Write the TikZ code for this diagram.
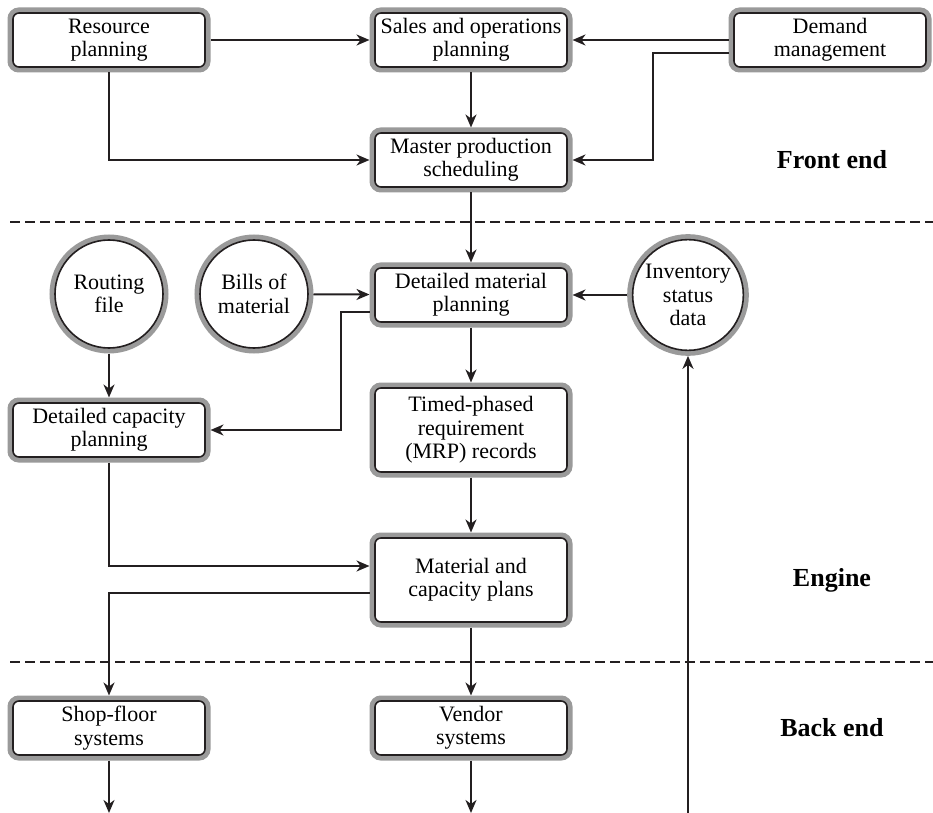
\documentclass[tikz,border=0pt]{standalone}
\usepackage{fontspec}
\setmainfont{LiberationSerif}[
  Extension=.ttf,
  UprightFont=*-Regular,
  BoldFont=*-Bold,
  ItalicFont=*-Italic,
  BoldItalicFont=*-BoldItalic]
\usepackage{tikz}
\usetikzlibrary{arrows.meta,positioning,calc}
\definecolor{ringgray}{HTML}{9A9A9A}
\definecolor{linedark}{HTML}{231F20}
\tikzset{
  mybox/.style={
    draw=linedark, fill=white, rounded corners=3pt, line width=0.8pt,
    preaction={draw=ringgray, line width=5.5pt},
    font=\fontsize{11}{11.7}\selectfont, align=center,
    minimum width=96pt, minimum height=27pt, inner sep=2pt, outer sep=2.75pt,
  },
  mycirc/.style={
    circle, draw=linedark, fill=white, line width=0.8pt,
    preaction={draw=ringgray, line width=5.5pt},
    font=\fontsize{11}{11.7}\selectfont, align=center,
    minimum size=54pt, inner sep=1pt, outer sep=2.75pt,
  },
  arrow/.style={-{Stealth[length=6.5pt, width=5.5pt, inset=2pt]}, line width=1pt, color=linedark},
  divider/.style={dash pattern=on 5pt off 2.5pt, line width=0.6pt, color=linedark},
  zone/.style={font=\fontsize{13}{15}\selectfont\bfseries},
}

\begin{document}
\begin{tikzpicture}[
  x=0.5pt, y=-0.5pt,
  tallbox/.style={mybox, minimum height=42pt},
]
  \useasboundingbox (0,0) rectangle (933,813);

  \node[mybox] (resplan) at (109,40) {Resource\\planning};
  \node[mybox] (sop) at (471,40) {Sales and operations\\planning};
  \node[mybox] (demand) at (830,40) {Demand\\management};
  \node[mybox] (mps) at (471,160) {Master production\\scheduling};

  \node[mycirc] (routing) at (109,294) {Routing\\file};
  \node[mycirc] (bom) at (254,294) {Bills of\\material};
  \node[mybox] (dmp) at (471,295) {Detailed material\\planning};
  \node[mycirc] (invdata) at (688,295) {Inventory\\status\\data};

  \node[mybox] (dcp) at (109,430) {Detailed capacity\\planning};
  \node[tallbox] (mrp) at (471,430) {Timed-phased\\requirement\\(MRP) records};
  \node[tallbox] (plans) at (471,580) {Material and\\capacity plans};

  \node[mybox] (shop) at (109,728) {Shop-floor\\systems};
  \node[mybox] (vendor) at (471,728) {Vendor\\systems};

  \node[zone] (frontend) at (832,160) {Front end};
  \node[zone] (engine) at (832,580) {Engine};
  \node[zone] (backend) at (832,728) {Back end};

  \coordinate (shopout) at (109,813);
  \coordinate (vendorout) at (471,813);
  \coordinate (invin) at (688,813);

  \draw[divider] (10,222) -- (933,222);
  \draw[divider] (10,662) -- (933,662);

  \draw[arrow] (resplan) -- (sop);
  \draw[arrow] (demand) -- (sop);
  \draw[arrow] (sop) -- (mps);
  \draw[arrow] (resplan.south) |- (mps.west);
  \draw[arrow] ($(demand.west)+(0,13)$) -| ($(mps.east)+(80,0)$) -- (mps.east);
  \draw[arrow] (mps) -- (dmp);
  \draw[arrow] (bom) -- (dmp);
  \draw[arrow] (invdata) -- (dmp);
  \draw[arrow] (routing) -- (dcp);
  \draw[arrow] ($(dmp.west)+(0,17)$) -| ($(dcp.east)+(130,0)$) -- (dcp.east);
  \draw[arrow] (dmp) -- (mrp);
  \draw[arrow] (mrp) -- (plans);
  \draw[arrow] (dcp.south) |- ($(plans.west)+(0,-14)$);
  \draw[arrow] ($(plans.west)+(0,13)$) -| (shop.north);
  \draw[arrow] (plans) -- (vendor);
  \draw[arrow] (shop) -- (shopout);
  \draw[arrow] (vendor) -- (vendorout);
  \draw[arrow] (invin) -- (invdata.south);

\end{tikzpicture}
\end{document}
